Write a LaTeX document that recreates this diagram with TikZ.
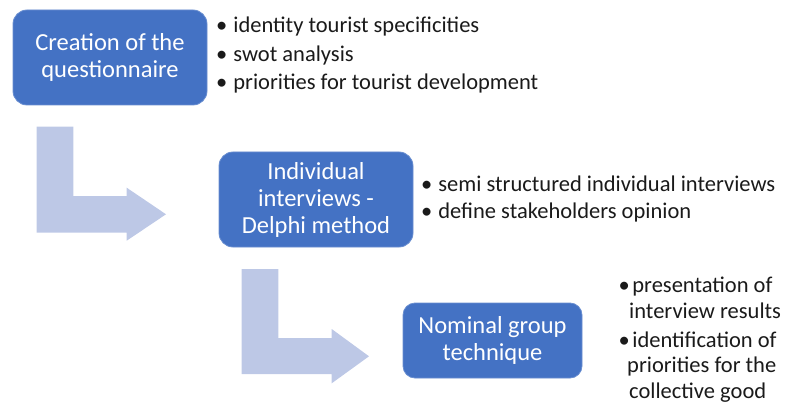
\documentclass[tikz,border=0pt]{standalone}
\usepackage{fontspec}
\setmainfont{Carlito}
\definecolor{stepblue}{HTML}{4472C4}
\definecolor{flowarrow}{HTML}{BDC8E6}
\definecolor{bullettext}{HTML}{1A1A1A}
\begin{document}
\begin{tikzpicture}[x=1pt,y=-1pt,
  stepbox/.style={fill=stepblue, draw=stepblue!80!white, line width=0.8pt,
    rounded corners=14pt, text=white, align=center, inner sep=0pt,
    font=\fontsize{24.5}{27}\selectfont},
  bulletline/.style={anchor=base west, inner sep=0pt, text=bullettext,
    font=\fontsize{22.5}{26}\selectfont},
  flowbend/.style={fill=flowarrow, draw=none}]
\useasboundingbox (0,0) rectangle (786,406);

% process steps
\node[stepbox, minimum width=194pt, minimum height=95pt] (create) at (110,57.5)
  {Creation of the\\questionnaire};
\node[stepbox, minimum width=194pt, minimum height=95pt] (delphi) at (316,199.5)
  {Individual\\interviews -\\Delphi method};
\node[stepbox, minimum width=179pt, minimum height=75pt, rounded corners=12pt] (nominal) at (492.5,340.5)
  {Nominal group\\technique};

% bent arrows leading from one step to the next
\fill[flowbend] (36.7,126.7) -- (73.3,126.7) -- (73.3,196) -- (126.7,196) -- (126.7,187.7)
  -- (166,214.3) -- (126.7,240.7) -- (126.7,232.7) -- (36.7,232.7) -- cycle;
\fill[flowbend] (241.7,269) -- (278.3,269) -- (278.3,338) -- (331.7,338) -- (331.7,329)
  -- (369,356.3) -- (331.7,383.3) -- (331.7,374) -- (241.7,374) -- cycle;

% notes beside the first step
\node[bulletline] (c1) at (216,33) {•\hspace{6pt}identity tourist specificities};
\node[bulletline] (c2) at (216,62) {•\hspace{6pt}swot analysis};
\node[bulletline] (c3) at (216,90) {•\hspace{6pt}priorities for tourist development};

% notes beside the second step
\node[bulletline] (d1) at (421,191) {•\hspace{6pt}semi structured individual interviews};
\node[bulletline] (d2) at (421,218) {•\hspace{6pt}define stakeholders opinion};

% notes beside the third step
\node[bulletline] (n1) at (618.5,292) {•\hspace{2.5pt}presentation of};
\node[bulletline] (n2) at (629,318) {interview results};
\node[bulletline] (n3) at (618.5,347) {•\hspace{2.5pt}identification of};
\node[bulletline] (n4) at (627,372) {priorities for the};
\node[bulletline] (n5) at (629,398) {collective good};
\end{tikzpicture}
\end{document}
